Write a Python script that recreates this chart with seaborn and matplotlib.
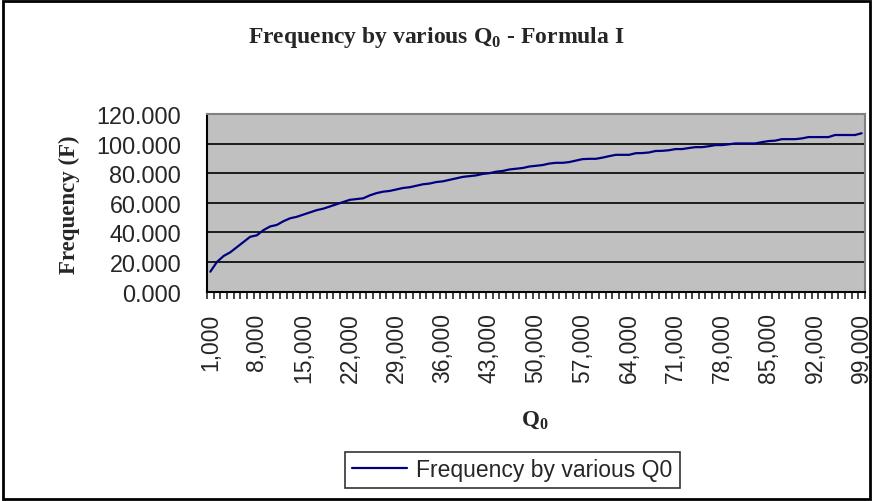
import pandas as pd
import matplotlib.pyplot as plt
import seaborn as sns
from matplotlib.patches import Rectangle

# Q0 values 1,000 .. 99,000 (one category per thousand)
q0 = [1000 * k for k in range(1, 100)]

# Frequency
frequency = [
    13.4, 20.0, 24.0, 26.5, 30.0, 33.5, 37.0, 38.0, 41.5, 44.0,
    45.0, 47.5, 49.5, 50.5, 52.0, 53.5, 55.0, 56.0, 57.5, 59.0,
    60.5, 62.0, 62.5, 63.0, 65.0, 66.5, 67.5, 68.0, 69.0, 70.0,
    70.5, 71.5, 72.5, 73.0, 74.0, 74.5, 75.5, 76.5, 77.5, 78.0,
    78.5, 79.5, 80.0, 81.0, 81.5, 82.5, 83.0, 83.5, 84.5, 85.0,
    85.5, 86.5, 87.0, 87.0, 87.5, 88.5, 89.5, 89.7, 89.7, 90.5,
    91.5, 92.4, 92.4, 92.4, 93.5, 93.6, 94.0, 95.0, 95.1, 95.5,
    96.3, 96.3, 97.0, 97.6, 97.6, 98.2, 99.0, 99.0, 99.5, 100.1,
    100.1, 100.1, 100.1, 101.0, 101.7, 102.0, 103.0, 103.0, 103.0, 103.5,
    104.4, 104.4, 104.4, 104.4, 105.8, 105.8, 105.8, 105.8, 107.0,
]

y_ticks = [0, 20, 40, 60, 80, 100, 120]

df = pd.DataFrame({"pos": range(len(q0)), "Q0": q0, "F": frequency})

sns.set_style("white")
plt.rcParams['font.family'] = ['Liberation Sans', 'DejaVu Sans']
plt.rcParams['mathtext.fontset'] = 'custom'
plt.rcParams['mathtext.bf'] = 'Liberation Serif:bold'
plt.rcParams['mathtext.rm'] = 'Liberation Serif:bold'

fig = plt.figure(figsize=(8.73, 5.02), dpi=100)
ax = fig.add_axes([0.2371, 0.4173, 0.7537, 0.3536])
ax.set_facecolor("#C0C0C0")

# gridlines
for v in y_ticks[1:-1]:
    ax.axhline(v, color="black", lw=1.2, zorder=1)

sns.lineplot(data=df, x="pos", y="F", ax=ax, color="#000080", lw=1.6,
             label="Frequency by various Q0", zorder=3)

ax.set_xlim(-0.5, len(q0) - 0.5)
ax.set_ylim(0, 120)
ax.set_yticks(y_ticks)
ax.set_yticklabels([f"{v:.3f}" for v in y_ticks], fontsize=16.8)
ax.tick_params(axis="y", direction="inout", length=9, width=1.2, pad=14)

lab_pos = list(range(0, len(q0), 7))
ax.set_xticks(lab_pos)
ax.set_xticklabels([f"{q0[i]:,}" for i in lab_pos], rotation=90, fontsize=16.5)
ax.tick_params(axis="x", which="major", length=0, pad=15)
ax.set_xticks([i - 0.5 for i in range(len(q0) + 1)], minor=True)
ax.tick_params(axis="x", which="minor", direction="out", length=5, width=1.2, bottom=True)

for side in ["top", "right"]:
    ax.spines[side].set_color("#808080")
    ax.spines[side].set_linewidth(1.5)
for side in ["left", "bottom"]:
    ax.spines[side].set_color("black")
    ax.spines[side].set_linewidth(1.5)

ax.set_xlabel("")
ax.set_ylabel("")
fig.text(0.5, 0.926, r"Frequency by various Q$_\mathbf{0}$ - Formula I",
         family="Liberation Serif", fontweight="bold", fontsize=17,
         ha="center", va="center")
fig.text(0.079, 0.592, "Frequency (F)", family="Liberation Serif",
         fontweight="bold", fontsize=16.5, rotation=90, ha="center", va="center")
fig.text(0.613, 0.163, r"Q$_\mathbf{0}$", family="Liberation Serif",
         fontweight="bold", fontsize=16.5, ha="center", va="center")

leg = ax.legend(loc="center", bbox_to_anchor=(0.587, 0.0618),
                bbox_transform=fig.transFigure, frameon=True, fancybox=False,
                fontsize=16.5, handlelength=2.4, handletextpad=0.4,
                borderpad=0.3, edgecolor="black")
leg.get_frame().set_linewidth(1.2)

# chart-area border
fig.patches.append(Rectangle((0.003, 0.003), 0.994, 0.994, transform=fig.transFigure,
                             fill=False, edgecolor="black", lw=2))

fig.savefig("out.png", dpi=100)
